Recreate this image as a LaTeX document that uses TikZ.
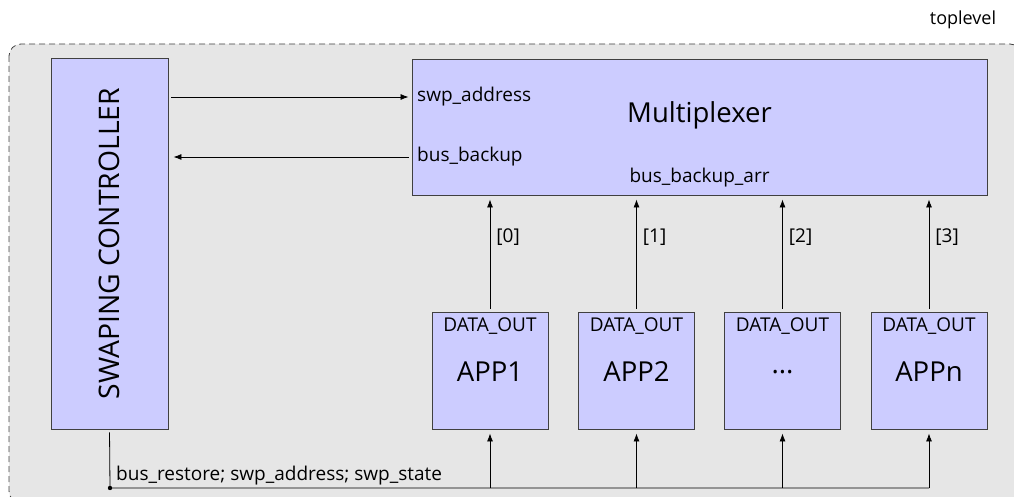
\documentclass[tikz,border=0pt]{standalone}
\usepackage{fontspec}
\setmainfont{Open Sans}
\usetikzlibrary{arrows.meta,calc}
\definecolor{boxfill}{HTML}{CCCCFF}
\definecolor{framefill}{HTML}{E6E6E6}
\definecolor{edgegray}{HTML}{404040}
\newcommand\appdots{...}
\tikzset{
  blk/.style={draw=edgegray, fill=boxfill, line width=0.9pt, inner sep=0pt},
  appbox/.style={blk, minimum width=116pt, minimum height=117pt},
  arr/.style={-{Latex[length=8pt,width=6pt]}, line width=0.8pt},
  wire/.style={line width=0.8pt},
  lbl/.style={font=\fontsize{19}{21}\selectfont, inner sep=0pt},
  dout/.style={font=\fontsize{19}{21}\selectfont, inner sep=0pt},
  applbl/.style={font=\fontsize{27.5}{30}\selectfont, inner sep=0pt},
}
\begin{document}
\begin{tikzpicture}[x=1pt,y=-1pt]
\useasboundingbox (0,0) rectangle (1014,497);
\begin{scope}
\clip (0,0) rectangle (1014,497);
\draw[draw=edgegray, fill=framefill, dash pattern=on 6pt off 4pt, line width=0.8pt, rounded corners=12pt] (9,44) rectangle (1022,503);
\end{scope}
\node[font=\fontsize{18}{20}\selectfont, inner sep=0pt] (top) at (963,20) {toplevel};

\node[blk, minimum width=117pt, minimum height=371pt] (ctrl) at (109.5,243.5) {};
\node[font=\fontsize{28.3}{31}\selectfont, inner sep=0pt, rotate=90] (ctrltxt) at (ctrl.center) {SWAPING CONTROLLER};

\node[blk, minimum width=575pt, minimum height=136pt] (mux) at (699.5,127) {};
\node[font=\fontsize{27.5}{30}\selectfont, inner sep=0pt] (muxtxt) at (699.5,115) {Multiplexer};
\node[lbl, anchor=west] (swpA) at (417,97) {swp\_address};
\node[lbl, anchor=west] (bb) at (417,157) {bus\_backup};
\node[lbl] (bba) at (699.5,178) {bus\_backup\_arr};

\foreach \i/\x/\t in {1/490/APP1, 2/636.5/APP2, 3/782.5/\appdots, 4/929/APPn}{
  \node[appbox] (app\i) at (\x,370.5) {};
  \node[dout] (dout\i) at (\x,326) {DATA\_OUT};
  \node[applbl] (appt\i) at (\x,372) {\t};
}

% controller <-> multiplexer
\draw[arr, shorten <=3pt, shorten >=3pt] (ctrl.east |- swpA.west) -- (mux.west |- swpA.west);
\draw[arr, shorten <=3pt, shorten >=5pt] (mux.west |- bb.west) -- (ctrl.east |- bb.west);

% app -> mux
\foreach \i/\n in {1/0,2/1,3/2,4/3}{
  \draw[arr, shorten <=3pt, shorten >=4pt] (app\i.north) -- (app\i.north |- mux.south)
    node[lbl, pos=0.64, anchor=west, xshift=6pt] (idx\i) {[\n]};
}

% bus
\coordinate (busdot) at (110,488);
\draw[wire, shorten <=3pt] (ctrl.south) -- (busdot) -- (busdot -| app4.south);
\fill (busdot) circle (2.2pt);
\foreach \i in {1,2,3,4}{
  \draw[arr, shorten >=4pt] (busdot -| app\i.south) -- (app\i.south);
}
\node[lbl, anchor=base west] (buslbl) at (116,480) {bus\_restore; swp\_address; swp\_state};
\end{tikzpicture}
\end{document}
